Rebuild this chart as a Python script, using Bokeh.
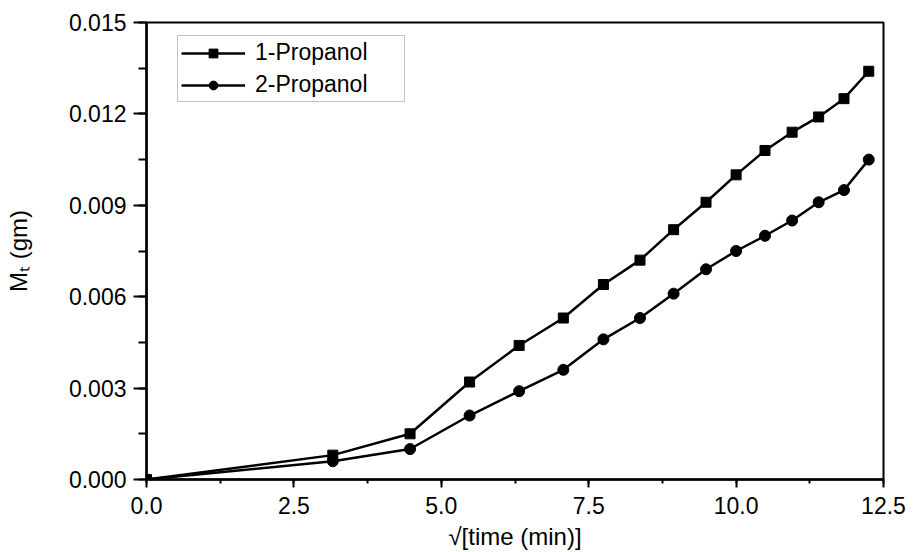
from bokeh.plotting import figure
from bokeh.models import Range1d, SingleIntervalTicker, NumeralTickFormatter, Legend, LegendItem
from bokeh.embed import file_html
from bokeh.resources import INLINE

# data
sqrt_time = [0.0, 3.16, 4.47, 5.48, 6.32, 7.07, 7.75, 8.37, 8.94, 9.49, 10.0, 10.49, 10.95, 11.40, 11.83, 12.25]
propanol_1 = [0.0, 0.0008, 0.0015, 0.0032, 0.0044, 0.0053, 0.0064, 0.0072, 0.0082, 0.0091, 0.0100, 0.0108, 0.0114, 0.0119, 0.0125, 0.0134]
propanol_2 = [0.0, 0.0006, 0.0010, 0.0021, 0.0029, 0.0036, 0.0046, 0.0053, 0.0061, 0.0069, 0.0075, 0.0080, 0.0085, 0.0091, 0.0095, 0.0105]
series_names = ["1-Propanol", "2-Propanol"]
x_label = "\u221a[time (min)]"
y_label = "M\u209c (gm)"

FONT = "Liberation Sans"

p = figure(
    frame_width=737, frame_height=457,
    min_border_left=146, min_border_right=30, min_border_top=22, min_border_bottom=73,
    x_range=Range1d(0, 12.5), y_range=Range1d(0, 0.015),
    output_backend="svg", toolbar_location=None,
    background_fill_color="white", border_fill_color="white",
)
p.grid.visible = False
p.outline_line_color = "black"
p.outline_line_width = 2

# x axis
xa = p.xaxis[0]
xa.ticker = SingleIntervalTicker(interval=2.5, num_minor_ticks=2)
xa.formatter = NumeralTickFormatter(format="0.0")
xa.axis_label = x_label
# y axis
ya = p.yaxis[0]
ya.ticker = SingleIntervalTicker(interval=0.003, num_minor_ticks=2)
ya.formatter = NumeralTickFormatter(format="0.000")
ya.axis_label = y_label

for ax in (xa, ya):
    ax.axis_line_width = 2.5
    ax.axis_line_color = "black"
    ax.major_tick_line_width = 2
    ax.minor_tick_line_width = 2
    ax.major_tick_in = 0
    ax.minor_tick_in = 0
    ax.major_label_text_font = FONT
    ax.major_label_text_font_size = "23px"
    ax.major_label_text_color = "black"
    ax.axis_label_text_font = FONT
    ax.axis_label_text_font_size = "24px"
    ax.axis_label_text_font_style = "normal"
    ax.axis_label_text_color = "black"

xa.major_tick_out = 8
xa.minor_tick_out = 4
xa.major_label_standoff = 9
xa.axis_label_standoff = 6
ya.major_tick_out = 13
ya.minor_tick_out = 8
ya.major_label_standoff = 7
ya.axis_label_standoff = 34

l1 = p.line(sqrt_time, propanol_1, line_color="black", line_width=2.5)
m1 = p.scatter(sqrt_time, propanol_1, marker="square", size=10, fill_color="black", line_color="black")
l2 = p.line(sqrt_time, propanol_2, line_color="black", line_width=2.5)
m2 = p.scatter(sqrt_time, propanol_2, marker="circle", size=11, fill_color="black", line_color="black")

legend = Legend(
    items=[LegendItem(label=series_names[0], renderers=[l1, m1]),
           LegendItem(label=series_names[1], renderers=[l2, m2])],
    location=(31, 377),
    padding=3, spacing=5, margin=0,
    glyph_width=64, glyph_height=22, label_height=22, label_standoff=10, label_width=146,
    label_text_font=FONT, label_text_font_size="23px", label_text_color="black",
    border_line_color="#888888", border_line_width=1,
    background_fill_color="white", background_fill_alpha=1,
)
p.add_layout(legend, "center")

open("out.html", "w").write(file_html(p, INLINE))
